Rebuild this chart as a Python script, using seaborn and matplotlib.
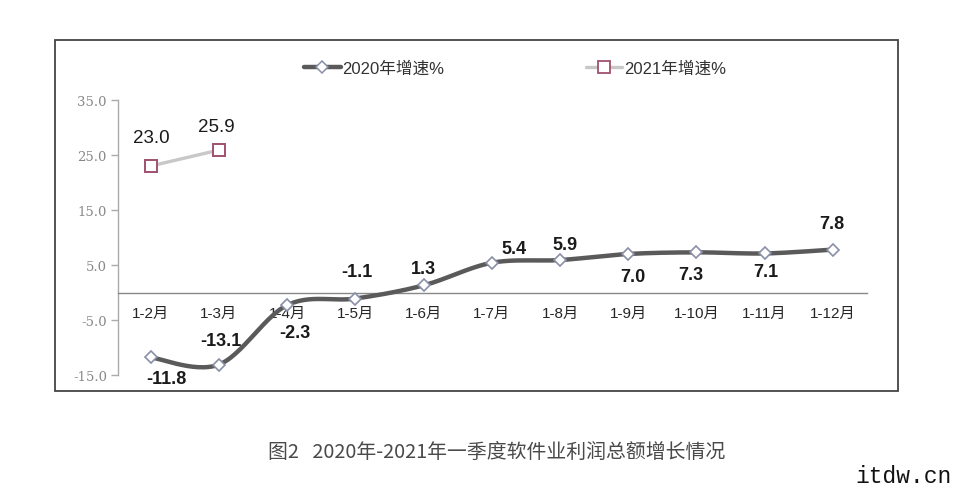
import numpy as np
import pandas as pd
import matplotlib
matplotlib.use("Agg")
import matplotlib.pyplot as plt
from matplotlib.lines import Line2D
from matplotlib.patches import Rectangle
import seaborn as sns

# ---------------- data ----------------
categories = ["1-2月", "1-3月", "1-4月", "1-5月", "1-6月", "1-7月",
              "1-8月", "1-9月", "1-10月", "1-11月", "1-12月"]
growth_2020 = [-11.8, -13.1, -2.3, -1.1, 1.3, 5.4, 5.9, 7.0, 7.3, 7.1, 7.8]
growth_2021 = [23.0, 25.9]
yticks = [-15.0, -5.0, 5.0, 15.0, 25.0, 35.0]
series_names = ["2020年增速%", "2021年增速%"]
title = "图2   2020年-2021年一季度软件业利润总额增长情况"

# label offsets in pixels (dx, dy) relative to points
off_2020 = [(16, -21), (2, 24), (8, -27), (1, 27), (0, 17), (22, 14),
            (5, 16), (5, -23), (-6, -22), (1, -18), (-1, 26)]
off_2021 = [(1, 28), (-3, 24)]

sns.set_theme(style="white")
plt.rcParams["font.family"] = ["Liberation Sans", "Noto Sans CJK SC", "DejaVu Sans"]

W, H = 957, 489
fig = plt.figure(figsize=(W / 100, H / 100), dpi=100)
ax = fig.add_axes([118 / W, 1 - 376 / H, (867 - 118) / W, 275 / H])

def smooth(xs, ys, n=30):
    # Catmull-Rom style Bezier smoothing (like office "smoothed line")
    P = np.column_stack([xs, ys]).astype(float)
    out = []
    for i in range(len(P) - 1):
        p0 = P[i - 1] if i > 0 else P[i]
        p1, p2 = P[i], P[i + 1]
        p3 = P[i + 2] if i + 2 < len(P) else P[i + 1]
        b1 = p1 + (p2 - p0) / 6.0
        b2 = p2 - (p3 - p1) / 6.0
        t = np.linspace(0, 1, n)[:, None]
        seg = ((1 - t) ** 3) * p1 + 3 * ((1 - t) ** 2) * t * b1 + 3 * (1 - t) * t ** 2 * b2 + t ** 3 * p2
        out.append(seg if i == 0 else seg[1:])
    return np.vstack(out)

x20 = np.arange(len(growth_2020))
x21 = np.arange(len(growth_2021))
s20 = smooth(x20, growth_2020)
df_line = pd.DataFrame({"x": s20[:, 0], "y": s20[:, 1]})
sns.lineplot(data=df_line, x="x", y="y", sort=False, ax=ax, color="#5a5a5a",
             linewidth=3.2, zorder=3, estimator=None)
df21 = pd.DataFrame({"x": x21, "y": growth_2021})
sns.lineplot(data=df21, x="x", y="y", sort=False, ax=ax, color="#c8c8c8",
             linewidth=2.4, zorder=3, estimator=None)

ax.plot(x20, growth_2020, linestyle="none", marker="D", markersize=6.2,
        markerfacecolor="white", markeredgecolor="#8a8fa8", markeredgewidth=1.2, zorder=4)
ax.plot(x21, growth_2021, linestyle="none", marker="s", markersize=8.8,
        markerfacecolor="white", markeredgecolor="#a05070", markeredgewidth=1.4, zorder=4)

for xi, v, (dx, dy) in zip(x20, growth_2020, off_2020):
    ax.annotate(f"{v:.1f}", (xi, v), xytext=(dx * 0.72, dy * 0.72), textcoords="offset points",
                ha="center", va="center", fontsize=13, fontweight="bold", color="#1a1a1a", zorder=5)
for xi, v, (dx, dy) in zip(x21, growth_2021, off_2021):
    ax.annotate(f"{v:.1f}", (xi, v), xytext=(dx * 0.72, dy * 0.72), textcoords="offset points",
                ha="center", va="center", fontsize=13.5, color="#1a1a1a", zorder=5)

ax.set_xlim(-0.48, len(categories) - 0.5)
ax.set_ylim(-15, 35)
ax.set_yticks(yticks)
ax.set_yticklabels([f"{t:.1f}" for t in yticks], fontfamily="DejaVu Serif",
                   fontsize=9.5, color="#888888")
ax.tick_params(axis="y", which="both", left=True, length=5, width=1, color="#aaaaaa", pad=3)
ax.set_xticks(x20)
ax.set_xticklabels(categories, fontfamily=["Noto Sans CJK SC", "DejaVu Sans"],
                   fontsize=9.5, color="#909090")
ax.tick_params(axis="x", length=0, pad=10)
ax.set_xlabel("")
ax.set_ylabel("")
for s in ["top", "right"]:
    ax.spines[s].set_visible(False)
ax.spines["left"].set_color("#aaaaaa")
ax.spines["left"].set_linewidth(1)
ax.spines["bottom"].set_position(("data", 0))
ax.spines["bottom"].set_color("#888888")
ax.spines["bottom"].set_linewidth(1)
ax.set_facecolor("none")

handles = [
    Line2D([], [], color="#5a5a5a", linewidth=3.2, marker="D", markersize=6,
           markerfacecolor="white", markeredgecolor="#8a8fa8", markeredgewidth=1.1),
    Line2D([], [], color="#c8c8c8", linewidth=2.4, marker="s", markersize=8,
           markerfacecolor="white", markeredgecolor="#a05070", markeredgewidth=1.3),
]
leg = fig.legend(handles, series_names, loc="center", bbox_to_anchor=(515 / W, 1 - 69 / H),
                 ncol=2, frameon=False, handlelength=2.2, handletextpad=0.1,
                 columnspacing=8.5, prop={"family": ["Liberation Sans", "Noto Sans CJK SC"], "size": 12})
for t in leg.get_texts():
    t.set_color("#333333")

fig.add_artist(Rectangle((55 / W, 1 - 392 / H), (898 - 55) / W, (392 - 41) / H,
                         transform=fig.transFigure, fill=False, edgecolor="#444444",
                         linewidth=1.3))

fig.text(497 / W, 1 - 452 / H, title, ha="center", va="center", fontsize=14.3,
         color="#4a4a4a", family=["Noto Sans CJK SC", "DejaVu Sans"], fontweight="light")
fig.text(855 / W, 1 - 477 / H, "itdw.cn", ha="left", va="center", fontsize=16.5,
         color="#111111", family="Liberation Mono")

fig.savefig("out.png", dpi=100)
